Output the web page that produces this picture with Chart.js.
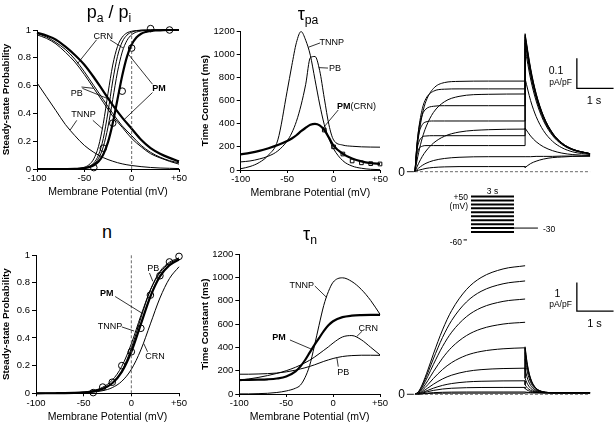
<!DOCTYPE html>
<html>
<head>
<meta charset="utf-8">
<script src="https://cdn.jsdelivr.net/npm/chart.js@4.4.1/dist/chart.umd.min.js"></script>
<style>
  body { margin: 0; width: 614px; height: 425px; position: relative; overflow: hidden; background: #fff;
         font-family: "Liberation Sans", Arial, sans-serif; color: #000; }
  .box { position: absolute; }
  .t { position: absolute; white-space: nowrap; line-height: 1; color: #000; }
  .t sub { font-size: 0.68em; vertical-align: -0.3em; line-height: 0; }
</style>
</head>
<body>
<div class="box" style="left:0;top:20px;width:190px;height:185px"><canvas id="paChart"></canvas></div>
<div class="box" style="left:198px;top:20px;width:192px;height:185px"><canvas id="tauPaChart"></canvas></div>
<div class="box" style="left:0;top:245px;width:190px;height:180px"><canvas id="nChart"></canvas></div>
<div class="box" style="left:198px;top:245px;width:192px;height:180px"><canvas id="tauNChart"></canvas></div>
<div class="box" style="left:405px;top:30px;width:209px;height:150px"><canvas id="ikrChart"></canvas></div>
<div class="box" style="left:405px;top:255px;width:209px;height:150px"><canvas id="iksChart"></canvas></div>
<div class="box" style="left:440px;top:185px;width:120px;height:60px"><canvas id="protoChart"></canvas></div>
<script>
// ---- p_a / p_i steady state (top left) ----
const vPi = [-100, -90, -80, -70, -60, -50, -40, -30, -20, -10, 0, 10, 20, 30, 40, 50];
const piPM = [0.98, 0.96, 0.93, 0.88, 0.82, 0.75, 0.66, 0.56, 0.46, 0.37, 0.29, 0.21, 0.15, 0.11, 0.08, 0.055];
const piCRN = [0.975, 0.95, 0.91, 0.86, 0.79, 0.70, 0.60, 0.50, 0.40, 0.31, 0.24, 0.17, 0.12, 0.085, 0.06, 0.045];
const piPB = [0.965, 0.94, 0.90, 0.84, 0.77, 0.68, 0.58, 0.48, 0.38, 0.30, 0.22, 0.16, 0.11, 0.08, 0.055, 0.035];
const piTNNP = [0.62, 0.52, 0.42, 0.32, 0.24, 0.17, 0.12, 0.082, 0.056, 0.037, 0.025, 0.017, 0.011, 0.007, 0.005, 0.003];

const vPa = [-100, -80, -60, -55, -50, -45, -40, -35, -30, -25, -20, -15, -10, -5, 0, 5, 10, 15, 20, 25, 30, 40, 50];
const paPM = [0, 0.0001, 0.0016, 0.0033, 0.0067, 0.0135, 0.027, 0.054, 0.105, 0.193, 0.329, 0.5, 0.671, 0.807, 0.895, 0.946, 0.973, 0.986, 0.993, 0.997, 0.998, 1, 1];
const paCRN = [0, 0.0001, 0.0013, 0.0029, 0.0067, 0.0153, 0.034, 0.076, 0.159, 0.303, 0.5, 0.697, 0.841, 0.924, 0.966, 0.985, 0.993, 0.997, 0.999, 1, 1, 1, 1];
const paPB = [0, 0, 0.0012, 0.003, 0.0073, 0.018, 0.0435, 0.101, 0.219, 0.41, 0.633, 0.81, 0.914, 0.963, 0.985, 0.994, 0.998, 0.999, 1, 1, 1, 1, 1];
const paTNNP = [0, 0, 0.0021, 0.0051, 0.0126, 0.031, 0.073, 0.163, 0.326, 0.545, 0.748, 0.881, 0.948, 0.979, 0.991, 0.996, 0.999, 1, 1, 1, 1, 1, 1];
const paExpV = [-40, -30, -20, -10, 0, 10, 20, 40];
const paExpP = [0.01, 0.15, 0.33, 0.56, 0.87, 1.04, 1.01, 1.0];

// ---- tau_pa (top middle) ----
const vTau = [-100, -90, -80, -70, -60, -50, -45, -40, -35, -30, -25, -20, -15, -10, -5, 0, 10, 20, 30, 40, 50];
const tauPaPM = [135, 148, 165, 188, 215, 250, 272, 300, 335, 365, 390, 398, 385, 345, 280, 210, 140, 100, 75, 60, 52];
const tauPaPB = [70, 78, 95, 120, 165, 250, 320, 420, 560, 740, 970, 980, 860, 620, 390, 260, 215, 205, 200, 198, 197];
const tauPaTNNP = [11, 30, 65, 130, 260, 680, 900, 1100, 1195, 1120, 990, 780, 570, 392, 270, 183, 80, 34, 15, 6, 3];
const tauExpV = [-10, 0, 10, 20, 30, 40, 50];
const tauExpT = [345, 200, 138, 78, 62, 55, 52];

// ---- n steady state (bottom left) ----
const vN = [-100, -90, -80, -70, -60, -50, -40, -30, -20, -10, 0, 10, 20, 30, 40, 50];
const nPM = [0.0001, 0.0002, 0.0005, 0.0011, 0.0027, 0.0062, 0.014, 0.033, 0.073, 0.155, 0.30, 0.50, 0.70, 0.845, 0.927, 0.967];
const nPB = [0, 0.0001, 0.0003, 0.0008, 0.0021, 0.0051, 0.0126, 0.031, 0.073, 0.163, 0.326, 0.545, 0.748, 0.881, 0.948, 0.979];
const nTNNP = [0.0001, 0.0003, 0.0007, 0.0016, 0.0038, 0.0086, 0.0195, 0.044, 0.095, 0.195, 0.358, 0.562, 0.747, 0.872, 0.940, 0.973];
const nCRN = [0.0001, 0.0002, 0.0004, 0.0008, 0.0019, 0.0041, 0.0088, 0.019, 0.041, 0.087, 0.173, 0.314, 0.502, 0.689, 0.830, 0.915];
const nExpV = [-40, -30, -20, -10, 0, 10, 20, 30, 40, 50];
const nExpP = [0.005, 0.045, 0.08, 0.2, 0.3, 0.47, 0.71, 0.85, 0.95, 0.99];

// ---- tau_n (bottom middle) ----
const vTn = [-100, -90, -80, -70, -60, -50, -40, -35, -30, -25, -20, -15, -10, -5, 0, 10, 20, 30, 40, 50];
const tnPM = [120, 121, 123, 126, 133, 150, 195, 235, 290, 355, 420, 480, 540, 590, 625, 660, 673, 678, 680, 680];
const tnCRN = [119, 129, 142, 158, 177, 200, 230, 248, 268, 290, 316, 345, 375, 405, 438, 490, 502, 466, 402, 336];
const tnPB = [170, 170, 172, 175, 180, 190, 205, 215, 225, 237, 250, 265, 280, 293, 305, 322, 330, 333, 333, 332];
const tnTNNP = [1, 1, 3, 6, 13, 26, 50, 75, 140, 245, 410, 590, 760, 880, 960, 998, 966, 899, 804, 685];

// ---- IKr traces (top right), pA/pF vs s; rows: +50 ... -40 mV ----
const tAct = [0, 0.05, 0.1, 0.2, 0.3, 0.5, 0.8, 1.2, 2, 3];
const tTail = [3, 3.15, 3.3, 3.5, 3.75, 4, 4.3, 4.77];
const ikrAct = [
  [0, 0.055, 0.075, 0.085, 0.087, 0.087, 0.087, 0.087, 0.087, 0.087],
  [0, 0.068, 0.097, 0.116, 0.119, 0.120, 0.120, 0.120, 0.120, 0.120],
  [0, 0.082, 0.124, 0.157, 0.166, 0.169, 0.169, 0.169, 0.169, 0.169],
  [0, 0.086, 0.139, 0.190, 0.209, 0.218, 0.220, 0.220, 0.220, 0.220],
  [0, 0.083, 0.141, 0.210, 0.244, 0.268, 0.275, 0.276, 0.276, 0.276],
  [0, 0.067, 0.119, 0.191, 0.235, 0.277, 0.297, 0.301, 0.302, 0.302],
  [0, 0.034, 0.064, 0.113, 0.149, 0.197, 0.233, 0.251, 0.258, 0.259],
  [0, 0.015, 0.028, 0.051, 0.069, 0.095, 0.118, 0.132, 0.140, 0.142],
  [0, 0.006, 0.012, 0.021, 0.028, 0.037, 0.044, 0.048, 0.050, 0.050],
  [0, 0.003, 0.005, 0.008, 0.011, 0.014, 0.016, 0.017, 0.017, 0.017]
];
const ikrTail = [
  [0.460, 0.345, 0.261, 0.186, 0.129, 0.096, 0.075, 0.060],
  [0.455, 0.341, 0.259, 0.185, 0.128, 0.096, 0.075, 0.060],
  [0.450, 0.337, 0.256, 0.183, 0.127, 0.095, 0.074, 0.060],
  [0.440, 0.330, 0.251, 0.180, 0.125, 0.094, 0.074, 0.060],
  [0.430, 0.323, 0.246, 0.176, 0.123, 0.093, 0.073, 0.060],
  [0.410, 0.309, 0.236, 0.170, 0.120, 0.091, 0.072, 0.059],
  [0.310, 0.237, 0.184, 0.137, 0.101, 0.080, 0.066, 0.057],
  [0.145, 0.119, 0.100, 0.083, 0.070, 0.062, 0.057, 0.054],
  [0.050, 0.050, 0.051, 0.051, 0.051, 0.052, 0.052, 0.052],
  [0.014, 0.027, 0.035, 0.042, 0.047, 0.049, 0.051, 0.052]
];

// ---- IKs traces (bottom right); rows: +50 ... -40 mV ----
const tActB = [0, 0.1, 0.2, 0.35, 0.5, 0.75, 1.0, 1.4, 1.8, 2.4, 3.0];
const tTailB = [3, 3.05, 3.1, 3.15, 3.2, 3.3, 3.4, 3.55, 3.8, 4.2, 4.77];
const iksAct = [
  [0, 0.101, 0.347, 0.847, 1.398, 2.244, 2.921, 3.647, 4.068, 4.368, 4.48],
  [0, 0.089, 0.306, 0.747, 1.232, 1.979, 2.575, 3.215, 3.587, 3.851, 3.95],
  [0, 0.075, 0.257, 0.627, 1.036, 1.663, 2.165, 2.702, 3.015, 3.237, 3.32],
  [0, 0.057, 0.194, 0.474, 0.783, 1.258, 1.637, 2.043, 2.279, 2.447, 2.51],
  [0, 0.041, 0.139, 0.335, 0.548, 0.863, 1.106, 1.358, 1.494, 1.586, 1.62],
  [0, 0.028, 0.093, 0.219, 0.349, 0.535, 0.667, 0.795, 0.859, 0.897, 0.91],
  [0, 0.019, 0.061, 0.138, 0.212, 0.310, 0.375, 0.431, 0.454, 0.467, 0.47],
  [0, 0.014, 0.043, 0.093, 0.135, 0.184, 0.211, 0.230, 0.237, 0.239, 0.24],
  [0, 0.008, 0.022, 0.042, 0.057, 0.070, 0.076, 0.079, 0.08, 0.08, 0.08],
  [0, 0.006, 0.016, 0.027, 0.034, 0.038, 0.039, 0.04, 0.04, 0.04, 0.04]
];
const iksTail = [
  [1.66, 1.146, 0.795, 0.557, 0.396, 0.210, 0.124, 0.073, 0.053, 0.05, 0.05],
  [1.59, 1.099, 0.763, 0.535, 0.381, 0.203, 0.121, 0.072, 0.053, 0.05, 0.05],
  [1.46, 1.010, 0.703, 0.494, 0.353, 0.190, 0.115, 0.070, 0.053, 0.05, 0.05],
  [1.22, 0.847, 0.592, 0.419, 0.302, 0.166, 0.104, 0.067, 0.052, 0.05, 0.05],
  [0.875, 0.612, 0.432, 0.310, 0.227, 0.132, 0.088, 0.062, 0.052, 0.05, 0.05],
  [0.56, 0.397, 0.286, 0.211, 0.160, 0.101, 0.073, 0.057, 0.051, 0.05, 0.05],
  [0.33, 0.241, 0.180, 0.138, 0.110, 0.078, 0.063, 0.054, 0.051, 0.05, 0.05],
  [0.20, 0.152, 0.119, 0.097, 0.082, 0.065, 0.057, 0.052, 0.05, 0.05, 0.05],
  [0.08, 0.07, 0.064, 0.059, 0.056, 0.053, 0.052, 0.05, 0.05, 0.05, 0.05],
  [0.05, 0.05, 0.05, 0.05, 0.05, 0.05, 0.05, 0.05, 0.05, 0.05, 0.05]
];
const baseT = [0, 4.77];
const zeroTickT = [-0.22, -0.03];
const barT = [4.41, 4.41, 5.41];
const ikrBarI = [0.378, 0.278, 0.278];
const iksBarI = [3.9, 2.9, 2.9];

// ---- voltage protocol inset ----
const stepV = [50, 40, 30, 20, 10, 0, -10, -20, -30, -40];
const stepT = [0, 3];
const tailV = -30;
const tailT = [3, 4.67];
const holdV = -60;
const holdTickT = [-0.52, -0.28];

const FONT = '"Liberation Sans", Arial, sans-serif';
Chart.defaults.font.family = FONT;
Chart.defaults.color = '#000';

function pts(xs, ys) {
  return xs.map((x, i) => ({ x: x, y: ys[i] }));
}

function curve(xs, ys, w, opts) {
  return Object.assign({
    data: pts(xs, ys), showLine: true, borderColor: '#000', borderWidth: w,
    pointRadius: 0, cubicInterpolationMode: 'monotone', clip: false
  }, opts || {});
}

function marks(xs, ys, style, r) {
  return {
    data: pts(xs, ys), showLine: false, pointStyle: style, pointRadius: r,
    borderColor: '#000', borderWidth: 1, backgroundColor: 'rgba(0,0,0,0)', clip: false
  };
}

const dashed = { borderDash: [3, 2], borderColor: '#444', borderWidth: 0.8, tension: 0, cubicInterpolationMode: 'default' };
const straight = { tension: 0, cubicInterpolationMode: 'default' };

// labels with leader lines, all given in data units
const notes = {
  id: 'notes',
  afterDatasetsDraw(chart, args, opts) {
    const ctx = chart.ctx, sx = chart.scales.x, sy = chart.scales.y;
    ctx.save();
    ctx.strokeStyle = '#000';
    ctx.fillStyle = '#000';
    ctx.lineWidth = 0.8;
    ctx.textBaseline = 'middle';
    ctx.textAlign = 'left';
    (opts.items || []).forEach(n => {
      n.lines.forEach(l => {
        ctx.beginPath();
        ctx.moveTo(sx.getPixelForValue(l[0]), sy.getPixelForValue(l[1]));
        ctx.lineTo(sx.getPixelForValue(l[2]), sy.getPixelForValue(l[3]));
        ctx.stroke();
      });
      let w = 0;
      n.parts.forEach(p => {
        ctx.font = (p.b ? 'bold ' : '') + '9px ' + FONT;
        w += ctx.measureText(p.t).width;
      });
      let x = sx.getPixelForValue(n.x) - w / 2;
      const y = sy.getPixelForValue(n.y);
      n.parts.forEach(p => {
        ctx.font = (p.b ? 'bold ' : '') + '9px ' + FONT;
        ctx.fillText(p.t, x, y);
        x += ctx.measureText(p.t).width;
      });
    });
    ctx.restore();
  }
};

function axes(o) {
  return {
    x: {
      type: 'linear', min: -100, max: 50,
      afterFit: s => { s.height = o.xh; },
      ticks: { stepSize: 50, autoSkip: false, maxRotation: 0, padding: 1, font: { size: 9.5 },
               callback: v => (v > 0 ? '+' + v : '' + v) },
      grid: { drawOnChartArea: false, tickLength: 3, color: '#000' },
      border: { color: '#000', width: 1 },
      title: { display: true, text: 'Membrane Potential (mV)', font: { size: 10.5, lineHeight: 1 },
               padding: { top: 0, bottom: o.xtp } }
    },
    y: {
      type: 'linear', min: 0, max: o.ymax,
      afterFit: s => { s.width = o.yw; },
      ticks: { stepSize: o.ystep, padding: 2, font: { size: 9.5 },
               callback: v => '' + Math.round(v * 10) / 10 },
      grid: { drawOnChartArea: false, tickLength: 4, color: '#000' },
      border: { color: '#000', width: 1 },
      title: { display: true, text: o.ytitle, font: { size: 9.8, weight: 'bold', lineHeight: 1 },
               padding: { top: o.ytp, bottom: 0 } }
    }
  };
}

function plotChart(id, datasets, ax, pad, items) {
  return new Chart(document.getElementById(id), {
    type: 'scatter',
    data: { datasets: datasets },
    options: {
      responsive: true, maintainAspectRatio: false, animation: false,
      layout: { padding: pad },
      scales: ax,
      plugins: { legend: { display: false }, tooltip: { enabled: false }, notes: { items: items } }
    },
    plugins: [notes]
  });
}

// top left: p_a / p_i
plotChart('paChart', [
  curve([0, 0], [0, 1], 0.8, dashed),
  curve(vPi, piTNNP, 1), curve(vPi, piPB, 1), curve(vPi, piCRN, 1), curve(vPi, piPM, 2.2),
  curve(vPa, paTNNP, 1), curve(vPa, paPB, 1), curve(vPa, paCRN, 1), curve(vPa, paPM, 2.2),
  marks(paExpV, paExpP, 'circle', 3.3)
], axes({ xh: 36, yw: 37, ymax: 1, ystep: 0.2, ytitle: 'Steady-state Probability', xtp: 7.7, ytp: 1.6 }),
{ top: 10, right: 11, left: 0, bottom: 0 }, [
  { x: -30, y: 0.955, parts: [{ t: 'CRN' }], lines: [[-37, 0.93, -57, 0.76], [-23, 0.93, -9, 0.87]] },
  { x: -58, y: 0.545, parts: [{ t: 'PB' }], lines: [[-53, 0.59, -40, 0.58], [-52, 0.58, -23, 0.5]] },
  { x: -51, y: 0.39, parts: [{ t: 'TNNP' }], lines: [[-58, 0.35, -65, 0.28], [-41, 0.35, -31, 0.29]] },
  { x: 29, y: 0.58, parts: [{ t: 'PM', b: true }], lines: [[22, 0.61, -4, 0.83], [22, 0.55, -8, 0.355]] }
]);

// top middle: tau_pa
plotChart('tauPaChart', [
  curve(vTau, tauPaTNNP, 1), curve(vTau, tauPaPB, 1), curve(vTau, tauPaPM, 2.2),
  marks(tauExpV, tauExpT, 'rect', 2.6)
], axes({ xh: 35, yw: 42.7, ymax: 1200, ystep: 200, ytitle: 'Time Constant (ms)', xtp: 7, ytp: 2 }),
{ top: 11, right: 10, left: 0, bottom: 0 }, [
  { x: -2, y: 1099, parts: [{ t: 'TNNP' }], lines: [[-14.5, 1097, -27, 1060]] },
  { x: 1.5, y: 878, parts: [{ t: 'PB' }], lines: [[-6, 880, -16, 884]] },
  { x: 24.6, y: 547, parts: [{ t: 'PM', b: true }, { t: '(CRN)' }], lines: [[5, 518, -12, 355]] }
]);

// bottom left: n
plotChart('nChart', [
  curve([0, 0], [0, 1], 0.8, dashed),
  curve(vN, nCRN, 1), curve(vN, nTNNP, 1), curve(vN, nPB, 1), curve(vN, nPM, 2.2),
  marks(nExpV, nExpP, 'circle', 3.3)
], axes({ xh: 31.7, yw: 36, ymax: 1, ystep: 0.2, ytitle: 'Steady-state Probability', xtp: 2.7, ytp: 1.6 }),
{ top: 10, right: 11, left: 0, bottom: 0 }, [
  { x: 23, y: 0.904, parts: [{ t: 'PB' }], lines: [[19, 0.87, 22.5, 0.81]] },
  { x: -25.8, y: 0.72, parts: [{ t: 'PM', b: true }], lines: [[-17, 0.70, 11, 0.58]] },
  { x: -22.4, y: 0.48, parts: [{ t: 'TNNP' }], lines: [[-10, 0.48, 3, 0.45]] },
  { x: 24.8, y: 0.265, parts: [{ t: 'CRN' }], lines: [[17, 0.30, 13, 0.36]] }
]);

// bottom middle: tau_n
plotChart('tauNChart', [
  curve(vTn, tnTNNP, 1), curve(vTn, tnPB, 1), curve(vTn, tnCRN, 1), curve(vTn, tnPM, 2.2)
], axes({ xh: 31, yw: 41.3, ymax: 1200, ystep: 200, ytitle: 'Time Constant (ms)', xtp: 2.7, ytp: 2 }),
{ top: 9.3, right: 10, left: 0, bottom: 0 }, [
  { x: -33.5, y: 928, parts: [{ t: 'TNNP' }], lines: [[-19.5, 928, -7, 830]] },
  { x: 37.5, y: 564, parts: [{ t: 'CRN' }], lines: [[31, 540, 25, 492]] },
  { x: -57.7, y: 484, parts: [{ t: 'PM', b: true }], lines: [[-46, 464, -23, 385]] },
  { x: 10.9, y: 186, parts: [{ t: 'PB' }], lines: [[5.5, 235, 4, 312]] }
]);

// current traces
function traceSets(act, tail, tA, tT, joinAll, barY) {
  const sets = [
    curve(zeroTickT, [0, 0], 0.9, straight),
    curve(baseT, [0, 0], 0.8, dashed),
    curve(barT, barY, 1.3, straight)
  ];
  act.forEach((a, i) => {
    const tl = tail[i], last = a[a.length - 1];
    sets.push(curve(tA, a, 1));
    if (joinAll || last < 2) sets.push(curve([3, 3], [last, tl[0]], 1, straight));
    sets.push(curve(tT, tl, 1));
  });
  return sets;
}

function traceChart(id, sets, ymin, ymax) {
  return new Chart(document.getElementById(id), {
    type: 'scatter',
    data: { datasets: sets },
    options: {
      responsive: true, maintainAspectRatio: false, animation: false,
      layout: { padding: 0 },
      scales: {
        x: { type: 'linear', display: false, min: -0.272, max: 5.422 },
        y: { type: 'linear', display: false, min: ymin, max: ymax }
      },
      plugins: { legend: { display: false }, tooltip: { enabled: false } }
    }
  });
}

traceChart('ikrChart', traceSets(ikrAct, ikrTail, tAct, tTail, true, ikrBarI), -0.0277, 0.4723);
traceChart('iksChart', traceSets(iksAct, iksTail, tActB, tTailB, false, iksBarI), -0.373, 4.854);

// protocol inset
const protoSets = stepV.map(v => curve(stepT, [v, v], 2, straight));
protoSets.push(curve(tailT, [tailV, tailV], 1, straight));
protoSets.push(curve(holdTickT, [holdV, holdV], 1, straight));
new Chart(document.getElementById('protoChart'), {
  type: 'scatter',
  data: { datasets: protoSets },
  options: {
    responsive: true, maintainAspectRatio: false, animation: false,
    layout: { padding: 0 },
    scales: {
      x: { type: 'linear', display: false, min: -2.163, max: 6.21 },
      y: { type: 'linear', display: false, min: -72.9, max: 79.15 }
    },
    plugins: { legend: { display: false }, tooltip: { enabled: false } }
  }
});

// text outside the plot areas
function label(html, x, y, size, anchor, weight) {
  const d = document.createElement('div');
  d.className = 't';
  d.innerHTML = html;
  d.style.fontSize = size + 'px';
  d.style.left = x + 'px';
  d.style.top = y + 'px';
  const tx = anchor === 'left' ? '0' : anchor === 'right' ? '-100%' : '-50%';
  d.style.transform = 'translate(' + tx + ',-50%)';
  if (weight) d.style.fontWeight = weight;
  document.body.appendChild(d);
}

label('p<sub>a</sub> / p<sub>i</sub>', 109, 12, 18);
label('&tau;<sub>pa</sub>', 308, 14, 18);
label('n', 107, 232, 18);
label('&tau;<sub>n</sub>', 310, 234, 18);

label('0', 401.5, 171.5, 12);
label('0', 401.5, 394.3, 12);
label('0.1', 556, 70, 10.5);
label('pA/pF', 560.5, 82, 8.5);
label('1 s', 594, 99.5, 11);
label('1', 557.5, 292.5, 10.5);
label('pA/pF', 560.5, 304, 8.5);
label('1 s', 594.5, 322.5, 11);

label('3 s', 492.5, 190.5, 8.5);
label('+50', 468, 197, 8.5, 'right');
label('(mV)', 468, 205.5, 8.5, 'right');
label('-60', 462, 241.5, 8.5, 'right');
label('-30', 543, 228.5, 8.5, 'left');
</script>
</body>
</html>
